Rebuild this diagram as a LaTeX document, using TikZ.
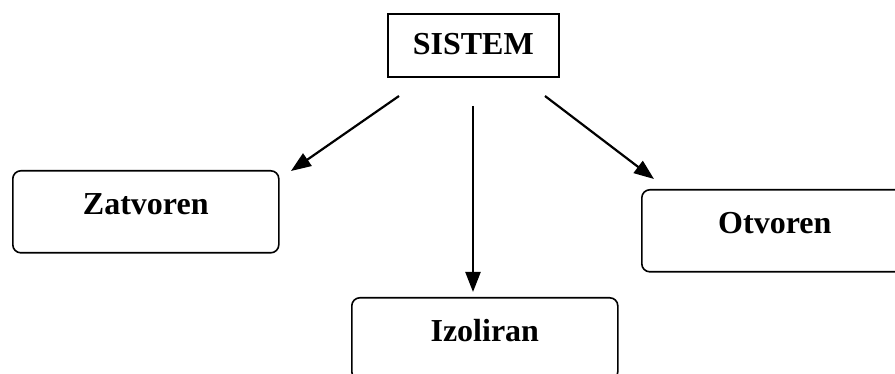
\documentclass[tikz,border=0pt]{standalone}
\usepackage{fontspec}
\setmainfont{Liberation Serif}
\usetikzlibrary{positioning, arrows.meta}

\begin{document}
\begin{tikzpicture}[x=1pt, y=-1pt]
    \tikzstyle{every node}=[font=\fontsize{32}{36}\selectfont\bfseries]
    \tikzset{
      top/.style={draw=black, line width=1.6pt, rectangle, minimum width=171pt, minimum height=63pt, text height=22pt, text depth=4pt},
      kind/.style={draw=black, line width=1.6pt, rectangle, rounded corners=8pt, minimum width=266pt, minimum height=82pt, text height=22pt, text depth=16pt},
      link/.style={-{Triangle[length=20pt, width=15pt]}, line width=2.2pt}
    }
    \useasboundingbox (0,0) rectangle (895,374);

    \node[top, anchor=north west]  (sistem)   at (387,13)  {SISTEM};
    \node[kind, anchor=north west] (zatvoren) at (12,170)  {Zatvoren};
    \node[kind, anchor=north west] (izoliran) at (351,297) {Izoliran};
    \node[kind, anchor=north west] (otvoren)  at (641,189) {Otvoren};

    % free ends of the arrows
    \coordinate (s1) at (399,96);
    \coordinate (t1) at (291,171);
    \coordinate (s2) at (473,106);
    \coordinate (t2) at (473,292);
    \coordinate (s3) at (545,96);
    \coordinate (t3) at (654,179);

    \draw[link] (s1) to (t1);
    \draw[link] (s2) to (t2);
    \draw[link] (s3) to (t3);

\end{tikzpicture}
\end{document}
